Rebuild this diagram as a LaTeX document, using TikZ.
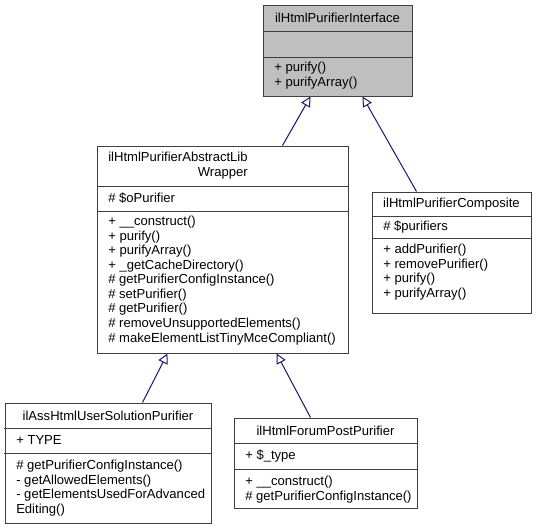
\documentclass[tikz,border=0pt]{standalone}
\usepackage{fontspec}
\setmainfont{Liberation Sans}
\usetikzlibrary{arrows.meta,calc,fit}
\definecolor{classgray}{RGB}{191,191,191}
\definecolor{boxline}{RGB}{64,64,64}
\definecolor{edgenavy}{RGB}{25,25,112}

\tikzset{
  classbox/.style={draw=boxline, line width=0.75pt, inner sep=0pt},
  sepline/.style={draw=boxline, line width=0.75pt},
  classname/.style={inner sep=0pt, align=center, font=\fontsize{9.8}{10.9}\selectfont},
  member/.style={inner sep=0pt, align=left, font=\fontsize{9.8}{10.9}\selectfont},
  inherit/.style={draw=edgenavy, line width=0.75pt, -{Triangle[open, length=7.5pt, width=7.5pt]}}
}

\begin{document}
\begin{tikzpicture}[x=0.75pt, y=-0.75pt]
  \fill[white] (0,0) rectangle (537,529);
  \useasboundingbox (0,0) rectangle (537,529);

  % the interface
  \node[classbox, fill=classgray, fit={(263,5) (412,96)}] (iface) {};
  \draw[sepline] (iface.west |- 0,31) -- (iface.east |- 0,31);
  \draw[sepline] (iface.west |- 0,57) -- (iface.east |- 0,57);
  \node[classname] (iface-name) at (337.5,18) {ilHtmlPurifierInterface};
  \node[member, anchor=north west] (iface-ops) at (274,62) {+ purify()\\+ purifyArray()};

  % abstract wrapper
  \node[classbox, fit={(97,146) (348,353)}] (wrapper) {};
  \draw[sepline] (wrapper.west |- 0,186) -- (wrapper.east |- 0,186);
  \draw[sepline] (wrapper.west |- 0,211) -- (wrapper.east |- 0,211);
  \node[classname, align=right, anchor=north west] (wrapper-name) at (108,152) {ilHtmlPurifierAbstractLib\\Wrapper};
  \node[member, anchor=west] (wrapper-attr) at (108,198.5) {\# \$oPurifier};
  \node[member, anchor=north west] (wrapper-ops) at (108,216) {+ \_\_construct()\\+ purify()\\+ purifyArray()\\+ \_getCacheDirectory()\\\# getPurifierConfigInstance()\\\# setPurifier()\\\# getPurifier()\\\# removeUnsupportedElements()\\\# makeElementListTinyMceCompliant()};

  % composite
  \node[classbox, fit={(372,192) (531,313)}] (composite) {};
  \draw[sepline] (composite.west |- 0,216) -- (composite.east |- 0,216);
  \draw[sepline] (composite.west |- 0,238) -- (composite.east |- 0,238);
  \node[classname] (composite-name) at (451.5,204) {ilHtmlPurifierComposite};
  \node[member, anchor=west] (composite-attr) at (383,227) {\# \$purifiers};
  \node[member, anchor=north west] (composite-ops) at (383,244) {+ addPurifier()\\+ removePurifier()\\+ purify()\\+ purifyArray()};

  % user solution purifier
  \node[classbox, fit={(5,403) (211,523)}] (assPurifier) {};
  \draw[sepline] (assPurifier.west |- 0,428) -- (assPurifier.east |- 0,428);
  \draw[sepline] (assPurifier.west |- 0,453) -- (assPurifier.east |- 0,453);
  \node[classname] (ass-name) at (108,415.5) {ilAssHtmlUserSolutionPurifier};
  \node[member, anchor=west] (ass-attr) at (16,440.5) {+ TYPE};
  \node[member, anchor=north west] (ass-ops) at (16,460) {\# getPurifierConfigInstance()\\- getAllowedElements()\\- getElementsUsedForAdvanced\\Editing()};

  % forum post purifier
  \node[classbox, fit={(234,418) (417,508)}] (forumPurifier) {};
  \draw[sepline] (forumPurifier.west |- 0,443) -- (forumPurifier.east |- 0,443);
  \draw[sepline] (forumPurifier.west |- 0,469) -- (forumPurifier.east |- 0,469);
  \node[classname] (forum-name) at (325.5,430.5) {ilHtmlForumPostPurifier};
  \node[member, anchor=west] (forum-attr) at (245,456) {+ \$\_type};
  \node[member, anchor=north west] (forum-ops) at (245,476) {+ \_\_construct()\\\# getPurifierConfigInstance()};

  % inheritance
  \draw[inherit] ($(wrapper.north west)+(186,0)$) -- ($(iface.south west)+(48,0)$);
  \draw[inherit] ($(composite.north west)+(45,0)$) -- ($(iface.south west)+(100,0)$);
  \draw[inherit] ($(assPurifier.north west)+(138,0)$) -- ($(wrapper.south west)+(71,0)$);
  \draw[inherit] ($(forumPurifier.north west)+(77,0)$) -- ($(wrapper.south west)+(180,0)$);
\end{tikzpicture}
\end{document}
